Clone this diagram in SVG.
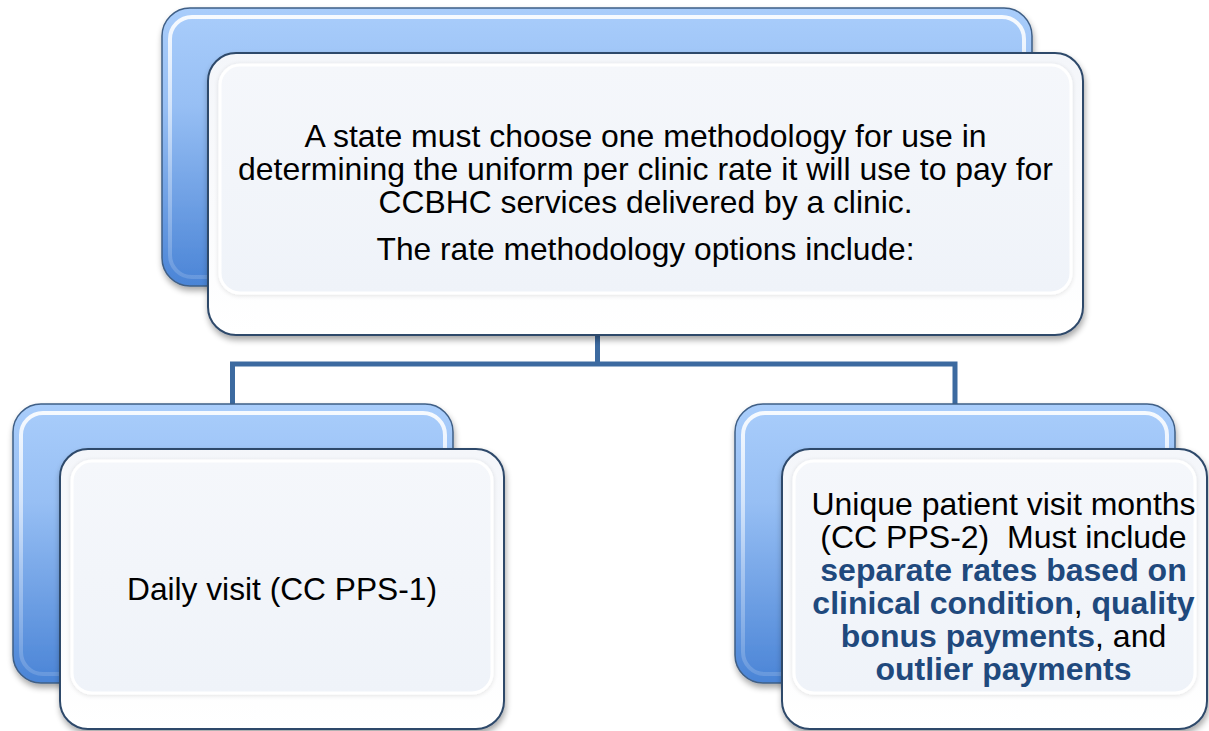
<svg xmlns="http://www.w3.org/2000/svg" width="1209" height="731" viewBox="0 0 1209 731">
<style>
text{font-family:"Liberation Sans",Arial,sans-serif;font-size:32px;fill:#000;text-anchor:middle;white-space:pre}
.b{font-weight:bold;fill:#1F497D}
.back{fill:url(#blue);stroke:#3f5f86;stroke-width:1.5}
.hl{fill:none;stroke:url(#hlg);stroke-width:4}
.front{fill:url(#wht);stroke:#2f4a6b;stroke-width:2}
.inner{fill:url(#inn);stroke:#ffffff;stroke-width:3}
.conn{fill:none;stroke:#3c6aa0;stroke-width:5}
</style>
<defs>
<linearGradient id="blue" x1="0" y1="0" x2="0" y2="1">
<stop offset="0" stop-color="#a9cdfb"/><stop offset="0.35" stop-color="#97bff4"/><stop offset="1" stop-color="#4a84d6"/>
</linearGradient>
<linearGradient id="hlg" x1="0" y1="0" x2="0" y2="1">
<stop offset="0" stop-color="#ffffff" stop-opacity="0.9"/><stop offset="0.6" stop-color="#ffffff" stop-opacity="0.35"/><stop offset="1" stop-color="#ffffff" stop-opacity="0.15"/>
</linearGradient>
<linearGradient id="wht" x1="0" y1="0" x2="0" y2="1">
<stop offset="0" stop-color="#f4f6fa"/><stop offset="1" stop-color="#ffffff"/>
</linearGradient>
<linearGradient id="inn" x1="0" y1="0" x2="0" y2="1">
<stop offset="0" stop-color="#f5f7fb"/><stop offset="1" stop-color="#eff3f9"/>
</linearGradient>
<filter id="sh" x="-5%" y="-5%" width="110%" height="115%">
<feGaussianBlur in="SourceAlpha" stdDeviation="3"/><feOffset dx="1" dy="4"/>
<feComponentTransfer><feFuncA type="linear" slope="0.35"/></feComponentTransfer>
<feMerge><feMergeNode/><feMergeNode in="SourceGraphic"/></feMerge>
</filter>
<filter id="soft" x="-5%" y="-5%" width="110%" height="110%">
<feGaussianBlur in="SourceAlpha" stdDeviation="2.5"/><feOffset dx="0" dy="1"/>
<feComponentTransfer><feFuncA type="linear" slope="0.12"/></feComponentTransfer>
<feMerge><feMergeNode/><feMergeNode in="SourceGraphic"/></feMerge>
</filter>
</defs>
<rect width="1209" height="731" fill="#ffffff"/>

<g id="connectors">
<path class="conn" d="M597.5 290 V364 M232.5 404 V364 H955 V404"/>
</g>

<g id="top-node">
<rect class="back" x="162" y="8" width="870" height="278" rx="28" filter="url(#sh)"/>
<rect class="hl" x="170" y="17" width="854" height="260" rx="22"/>
<rect class="front" x="208" y="53" width="875" height="282" rx="28" filter="url(#sh)"/>
<rect class="inner" x="220" y="65" width="851" height="228" rx="20" filter="url(#soft)"/>
<text x="645.5" y="147" textLength="682" lengthAdjust="spacingAndGlyphs">A state must choose one methodology for use in</text>
<text x="645.5" y="180" textLength="815" lengthAdjust="spacingAndGlyphs">determining the uniform per clinic rate it will use to pay for</text>
<text x="645.5" y="213" textLength="534" lengthAdjust="spacingAndGlyphs">CCBHC services delivered by a clinic.</text>
<text x="645.5" y="260" textLength="538" lengthAdjust="spacingAndGlyphs">The rate methodology options include:</text>
</g>

<g id="left-node">
<rect class="back" x="13" y="404" width="440" height="279" rx="28" filter="url(#sh)"/>
<rect class="hl" x="21" y="413" width="424" height="261" rx="22"/>
<rect class="front" x="60" y="449" width="444" height="280" rx="28" filter="url(#sh)"/>
<rect class="inner" x="72" y="461" width="420" height="232" rx="20" filter="url(#soft)"/>
<text x="282" y="599.5" textLength="310" lengthAdjust="spacingAndGlyphs">Daily visit (CC PPS-1)</text>
</g>

<g id="right-node">
<rect class="back" x="735" y="404" width="440" height="279" rx="28" filter="url(#sh)"/>
<rect class="hl" x="743" y="413" width="424" height="261" rx="22"/>
<rect class="front" x="782" y="449" width="425" height="280" rx="28" filter="url(#sh)"/>
<rect class="inner" x="794" y="461" width="401" height="232" rx="20" filter="url(#soft)"/>
<text x="1003.5" y="515">Unique patient visit months</text>
<text x="1003.5" y="548">(CC PPS-2)  Must include</text>
<text x="1003.5" y="581" class="b">separate rates based on</text>
<text x="1003.5" y="614"><tspan class="b">clinical condition</tspan>, <tspan class="b">quality</tspan></text>
<text x="1003.5" y="647"><tspan class="b">bonus payments</tspan>, and</text>
<text x="1003.5" y="680" class="b">outlier payments</text>
</g>
</svg>
